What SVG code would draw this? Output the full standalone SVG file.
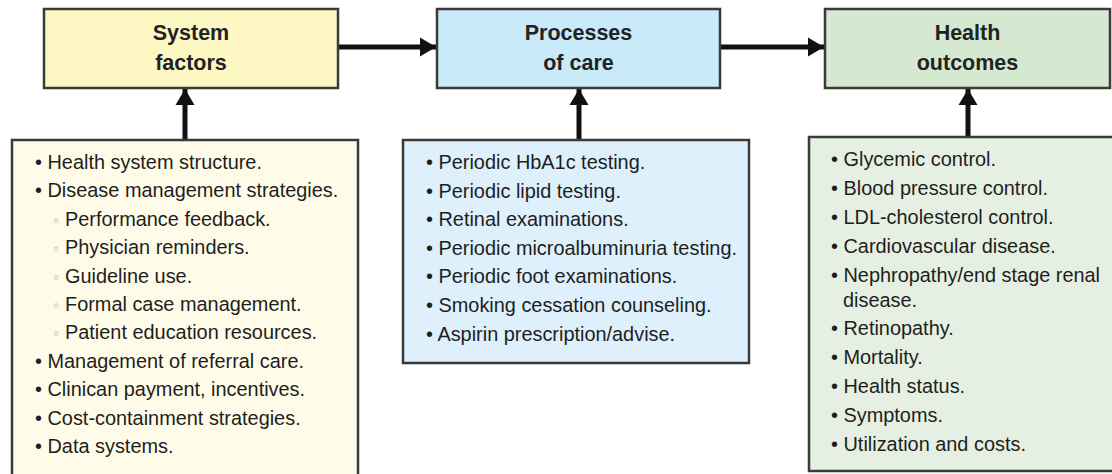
<svg xmlns="http://www.w3.org/2000/svg" width="1112" height="474" viewBox="0 0 1112 474">
<style>
.box{stroke:#3a3a3a;stroke-width:2.5}
.title{font-family:"Liberation Sans",Arial,sans-serif;font-weight:bold;font-size:21.5px;fill:#222;text-anchor:middle}
.item{font-family:"Liberation Sans",Arial,sans-serif;font-size:19.9px;fill:#1e1e1e}
.sub{fill:#8a8a8a;font-family:"DejaVu Sans",sans-serif;font-size:14px}
.conn{stroke:#111;stroke-width:5;fill:none}
</style>
<defs>
<marker id="ah" markerWidth="4" markerHeight="4" refX="3.2" refY="2" orient="auto" markerUnits="strokeWidth">
<path d="M0,0.1 L3.2,2 L0,3.9 Z" fill="#111"/>
</marker>
</defs>
<rect width="1112" height="474" fill="#fff"/>
<g id="connectors">
<line class="conn" x1="339" y1="47" x2="436" y2="47" marker-end="url(#ah)"/>
<line class="conn" x1="721" y1="47" x2="824" y2="47" marker-end="url(#ah)"/>
<line class="conn" x1="185" y1="139" x2="185" y2="89" marker-end="url(#ah)"/>
<line class="conn" x1="579" y1="139" x2="579" y2="89" marker-end="url(#ah)"/>
<line class="conn" x1="968" y1="136" x2="968" y2="89" marker-end="url(#ah)"/>
</g>
<g id="system-factors">
<rect class="box" x="44" y="9" width="294" height="79" fill="#fdf7c4"/>
<text class="title" x="191" y="40">System</text>
<text class="title" x="191" y="70">factors</text>
</g>
<g id="processes-of-care">
<rect class="box" x="437" y="9" width="283" height="79" fill="#c8eaf9"/>
<text class="title" x="578.5" y="40">Processes</text>
<text class="title" x="578.5" y="70">of care</text>
</g>
<g id="health-outcomes">
<rect class="box" x="825" y="9" width="285" height="79" fill="#d4e9cf"/>
<text class="title" x="967.5" y="40">Health</text>
<text class="title" x="967.5" y="70">outcomes</text>
</g>
<g id="system-factors-list">
<rect class="box" x="12" y="140" width="346" height="340" fill="#fefce8"/>
<text class="item" x="35" y="169">• Health system structure.</text>
<text class="item" x="35" y="197.4">• Disease management strategies.</text>
<text class="item" x="65" y="225.8"><tspan class="sub" x="52">◦</tspan><tspan x="65">Performance feedback.</tspan></text>
<text class="item" x="65" y="254.2"><tspan class="sub" x="52">◦</tspan><tspan x="65">Physician reminders.</tspan></text>
<text class="item" x="65" y="282.6"><tspan class="sub" x="52">◦</tspan><tspan x="65">Guideline use.</tspan></text>
<text class="item" x="65" y="311"><tspan class="sub" x="52">◦</tspan><tspan x="65">Formal case management.</tspan></text>
<text class="item" x="65" y="339.4"><tspan class="sub" x="52">◦</tspan><tspan x="65">Patient education resources.</tspan></text>
<text class="item" x="35" y="367.8">• Management of referral care.</text>
<text class="item" x="35" y="396.2">• Clinican payment, incentives.</text>
<text class="item" x="35" y="424.6">• Cost-containment strategies.</text>
<text class="item" x="35" y="453">• Data systems.</text>
</g>
<g id="processes-list">
<rect class="box" x="403" y="140" width="346" height="223" fill="#ddf0fb"/>
<text class="item" x="426" y="169">• Periodic HbA1c testing.</text>
<text class="item" x="426" y="197.6">• Periodic lipid testing.</text>
<text class="item" x="426" y="226.2">• Retinal examinations.</text>
<text class="item" x="426" y="254.8">• Periodic microalbuminuria testing.</text>
<text class="item" x="426" y="283.4">• Periodic foot examinations.</text>
<text class="item" x="426" y="312">• Smoking cessation counseling.</text>
<text class="item" x="426" y="340.6">• Aspirin prescription/advise.</text>
</g>
<g id="outcomes-list">
<rect class="box" x="809" y="137" width="310" height="334" fill="#e6f0e2"/>
<text class="item" x="831" y="166">• Glycemic control.</text>
<text class="item" x="831" y="195">• Blood pressure control.</text>
<text class="item" x="831" y="224">• LDL-cholesterol control.</text>
<text class="item" x="831" y="253">• Cardiovascular disease.</text>
<text class="item" x="831" y="282">• Nephropathy/end stage renal</text>
<text class="item" x="843" y="307">disease.</text>
<text class="item" x="831" y="335">• Retinopathy.</text>
<text class="item" x="831" y="364">• Mortality.</text>
<text class="item" x="831" y="393">• Health status.</text>
<text class="item" x="831" y="422">• Symptoms.</text>
<text class="item" x="831" y="451">• Utilization and costs.</text>
</g>
</svg>
